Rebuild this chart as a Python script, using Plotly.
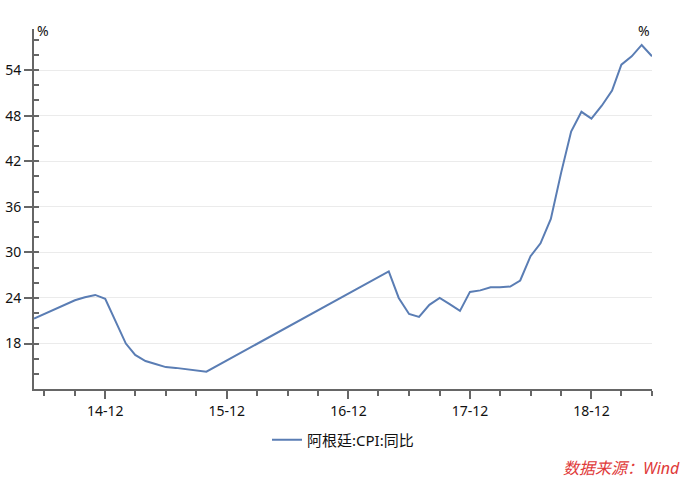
import plotly.graph_objects as go

# 阿根廷 CPI 同比 (%), monthly
months_2014_2015 = [
    "2014-05", "2014-06", "2014-07", "2014-08", "2014-09", "2014-10",
    "2014-11", "2014-12", "2015-01", "2015-02", "2015-03", "2015-04",
    "2015-05", "2015-06", "2015-07", "2015-08", "2015-09", "2015-10",
]
cpi_2014_2015 = [
    21.3, 21.9, 22.5, 23.1, 23.7, 24.1,
    24.4, 23.9, 20.9, 18.0, 16.5, 15.7,
    15.3, 14.9, 14.8, 14.6, 14.4, 14.3,
]

months_2017_2019 = [
    "2017-04", "2017-05", "2017-06", "2017-07", "2017-08", "2017-09",
    "2017-10", "2017-11", "2017-12", "2018-01", "2018-02", "2018-03",
    "2018-04", "2018-05", "2018-06", "2018-07", "2018-08", "2018-09",
    "2018-10", "2018-11", "2018-12", "2019-01", "2019-02", "2019-03",
    "2019-04", "2019-05", "2019-06",
]
cpi_2017_2019 = [
    27.5, 24.0, 21.9, 21.5, 23.1, 24.0,
    23.2, 22.3, 24.8, 25.0, 25.4, 25.4,
    25.5, 26.3, 29.5, 31.2, 34.4, 40.5,
    45.9, 48.5, 47.6, 49.3, 51.3, 54.7,
    55.8, 57.3, 55.8,
]

dates = [m + "-01" for m in months_2014_2015 + months_2017_2019]
values = cpi_2014_2015 + cpi_2017_2019

y_range = [12.02, 59.4]
axis_color = "#666666"
font_family = "Noto Sans, Noto Sans CJK SC"

fig = go.Figure()

fig.add_trace(
    go.Scatter(
        x=dates,
        y=values,
        mode="lines",
        name="阿根廷:CPI:同比",
        line=dict(color="#5a7db4", width=2),
    )
)

y_common = dict(
    range=y_range,
    tick0=0,
    dtick=6,
    ticks="outside",
    ticklen=8,
    tickwidth=2,
    tickcolor=axis_color,
    showline=True,
    linecolor=axis_color,
    linewidth=2,
    zeroline=False,
    automargin=False,
    tickfont=dict(size=14, color="#111111"),
    minor=dict(
        dtick=2,
        tick0=0,
        ticks="inside",
        ticklen=5,
        tickwidth=2,
        tickcolor=axis_color,
        showgrid=False,
    ),
)

fig.update_layout(
    width=690,
    height=478,
    margin=dict(l=34, r=38, t=29, b=89),
    paper_bgcolor="white",
    plot_bgcolor="white",
    font=dict(family=font_family, color="#111111"),
    showlegend=True,
    legend=dict(
        orientation="h",
        x=0.5,
        xanchor="center",
        y=-0.142,
        yanchor="middle",
        font=dict(size=15, color="#111111"),
    ),
    xaxis=dict(
        type="date",
        range=["2014-05-01", "2019-06-01"],
        tick0="2014-12-01",
        dtick="M12",
        tickformat="%y-%m",
        ticks="outside",
        ticklen=8,
        tickwidth=2,
        tickcolor=axis_color,
        showline=True,
        linecolor=axis_color,
        linewidth=2,
        showgrid=False,
        zeroline=False,
        automargin=False,
        tickfont=dict(size=14, color="#111111"),
        minor=dict(
            dtick="M3",
            tick0="2014-12-01",
            ticks="outside",
            ticklen=5,
            tickwidth=2,
            tickcolor=axis_color,
            showgrid=False,
        ),
    ),
    yaxis=dict(
        side="left",
        showgrid=True,
        gridcolor="#ebebeb",
        gridwidth=1,
        **y_common,
    ),
    yaxis2=dict(
        side="right",
        overlaying="y",
        showgrid=False,
        **y_common,
    ),
)

fig.add_annotation(
    text="%", xref="paper", yref="paper", x=0.0138, y=0.997,
    xanchor="center", yanchor="middle",
    showarrow=False, font=dict(size=14, color="#111111"),
)
fig.add_annotation(
    text="%", xref="paper", yref="paper", x=0.987, y=0.997,
    xanchor="center", yanchor="middle",
    showarrow=False, font=dict(size=14, color="#111111"),
)
fig.add_annotation(
    text="数据来源：Wind",
    xref="paper", yref="paper",
    x=1.0485, xanchor="right",
    y=-0.219, yanchor="middle",
    showarrow=False,
    font=dict(size=16, color="#e03a3a", style="italic"),
)

fig.write_html(
    "out.html",
    config={"displayModeBar": False},
    post_script="document.body.style.margin='0';",
)
